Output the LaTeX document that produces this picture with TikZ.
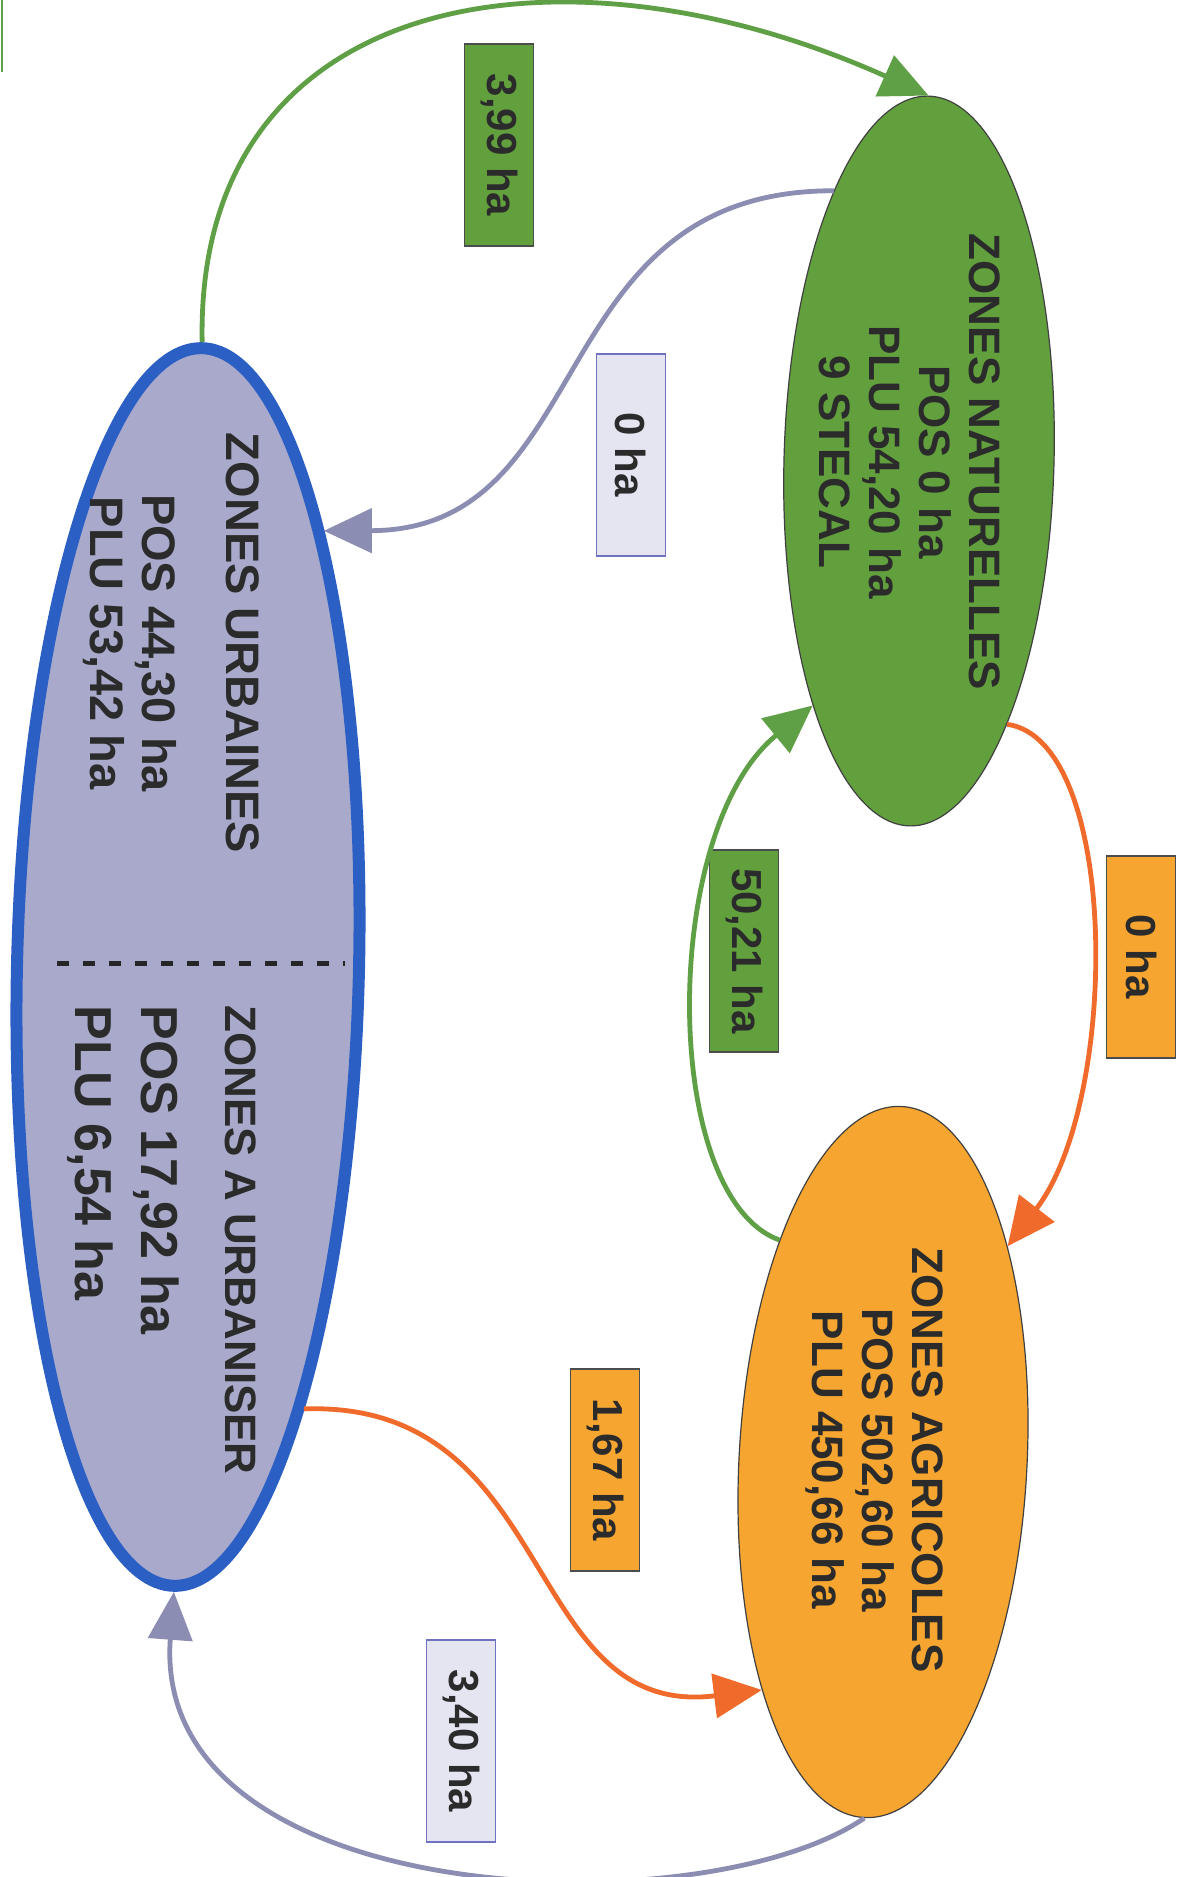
\documentclass[tikz,border=0pt]{standalone}
\usepackage{fontspec}
\setmainfont{Liberation Sans}
\usetikzlibrary{arrows.meta, shapes.geometric}
\definecolor{zurb}{HTML}{A9AACB}
\definecolor{zurbline}{HTML}{2C5FC4}
\definecolor{znat}{HTML}{62A03E}
\definecolor{zagr}{HTML}{F6A630}
\definecolor{fgreen}{HTML}{5F9F45}
\definecolor{forange}{HTML}{F06A2C}
\definecolor{fgrey}{HTML}{8B8DB2}
\definecolor{tpale}{HTML}{E4E5F1}
\definecolor{tink}{HTML}{2B2B2B}
\tikzset{
  zone/.style={ellipse, fill=#1, draw=black!75, line width=0.6pt, inner sep=0pt},
  zonetxt/.style={rotate=-90, align=center, inner sep=0pt, text=tink,
    font=\fontsize{22}{25}\selectfont\bfseries},
  tag/.style={rotate=-90, fill=#1, draw=black!70, line width=0.8pt,
    minimum width=101pt, minimum height=34.5pt, inner sep=0pt, text=tink,
    font=\fontsize{21}{24}\selectfont\bfseries},
  flux/.style={draw=#1, line width=2.4pt, -{Triangle[length=24pt,width=22pt]}}
}

\begin{document}
\begin{tikzpicture}[x=0.5pt,y=-0.5pt]
  \path[use as bounding box, fill=white] (0,0) rectangle (1181,1877);
  \draw[fgreen, line width=1.2pt] (2,0) -- (2,72);

  \node[zone=zurb, draw=zurbline, line width=6pt, minimum width=171pt,
    minimum height=619pt, rotate=-1.3] (urb) at (188,967) {};
  \node[zone=znat, minimum width=135pt, minimum height=365pt, rotate=-1.5] (nat) at (919,461) {};
  \node[zone=zagr, minimum width=144pt, minimum height=356pt, rotate=-3] (agr) at (883,1462) {};

  \draw[black!85, line width=2.5pt, dash pattern=on 6pt off 7pt] (57,963) -- (345,963);

  \node[zonetxt, font=\fontsize{23.5}{26}\selectfont\bfseries] (urbtxt) at (171,643)
    {ZONES URBAINES\\[16pt]POS 44,30 ha\\PLU 53,42 ha};
  \node[zonetxt, align=left, anchor=north west, font=\fontsize{26}{33}\selectfont\bfseries]
    (aurtxt) at (257,1005) {{\fontsize{22}{25}\selectfont ZONES A URBANISER}\\[9pt]POS 17,92 ha\\PLU 6,54 ha};
  \node[zonetxt] (nattxt) at (910,462) {ZONES NATURELLES\\POS 0 ha\\PLU 54,20 ha\\9 STECAL};
  \node[zonetxt] (agrtxt) at (874,1460) {ZONES AGRICOLES\\POS 502,60 ha\\PLU 450,66 ha};

  \node[tag=znat] (t399) at (499,145) {3,99 ha};
  \node[tag=tpale, draw=fgrey!80!blue] (t0a) at (631,455) {0 ha};
  \node[tag=znat] (t5021) at (744,951) {50,21 ha};
  \node[tag=zagr] (t0b) at (1141,957) {0 ha};
  \node[tag=zagr] (t167) at (605,1470) {1,67 ha};
  \node[tag=tpale, draw=fgrey!80!blue] (t340) at (461,1741) {3,40 ha};

  \draw[flux=fgreen] (urb.north) .. controls (195,-10) and (560,-70) .. (nat.north);
  \draw[flux=fgrey] (nat.109) .. controls (540,190) and (600,530) .. (urb.74);
  \draw[flux=fgreen] (agr.118) .. controls (660,1197) and (660,830) .. (nat.248);
  \draw[flux=forange] (nat.-70) .. controls (1120,740) and (1120,1100) .. (agr.63);
  \draw[flux=forange] (urb.-74) .. controls (560,1400) and (520,1720) .. (agr.245);
  \draw[flux=fgrey] (agr.south) .. controls (700,1930) and (150,1910) .. (urb.south);
\end{tikzpicture}
\end{document}
